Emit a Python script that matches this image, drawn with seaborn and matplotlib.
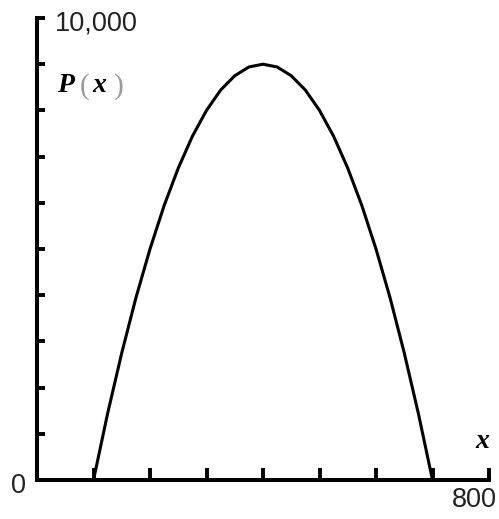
import matplotlib
matplotlib.use("Agg")
import matplotlib.pyplot as plt
import seaborn as sns

# profit curve (x in units, P in dollars)
x_vals = [100, 125, 150, 175, 200, 225, 250, 275, 300, 325, 350, 375, 400,
          425, 450, 475, 500, 525, 550, 575, 600, 625, 650, 675, 700]
p_vals = [0, 1440, 2750, 3940, 5000, 5940, 6750, 7440, 8000, 8440, 8750, 8940, 9000,
          8940, 8750, 8440, 8000, 7440, 6750, 5940, 5000, 3940, 2750, 1440, 0]
x_ticks = [100, 200, 300, 400, 500, 600, 700, 800]
y_ticks = [1000, 2000, 3000, 4000, 5000, 6000, 7000, 8000, 9000, 10000]

sns.set_style("ticks")

W, H = 499, 519
fig = plt.figure(figsize=(W / 100, H / 100), dpi=100)
ax = fig.add_axes([37 / W, 1 - 480 / H, (489 - 37) / W, (480 - 18) / H])

sns.lineplot(x=x_vals, y=p_vals, ax=ax, color="black", linewidth=2.2)

ax.set_xlim(0, 800)
ax.set_ylim(0, 10000)
ax.set_xticks(x_ticks)
ax.set_yticks(y_ticks)
ax.set_xticklabels([])
ax.set_yticklabels([])
ax.set_xlabel("")
ax.set_ylabel("")
sns.despine(ax=ax)
for s in ["left", "bottom"]:
    ax.spines[s].set_linewidth(2.9)
    ax.spines[s].set_color("black")
    ax.spines[s].set_capstyle("projecting")
ax.tick_params(axis="x", direction="in", length=8.5, width=2.8, color="black")
ax.tick_params(axis="y", direction="in", length=5.8, width=2.8, color="black")


def px(x, y):
    return x / W, 1 - y / H


sans = dict(family="Liberation Sans", fontsize=19.5, color="#222222")
serif_b = dict(family="Liberation Serif", fontsize=20, fontweight="bold", fontstyle="italic", color="black")
paren = dict(family="Liberation Serif", fontsize=21, color="#9a9a9a")

fig.text(*px(19, 486), "0", ha="center", va="center", **sans)
fig.text(*px(55, 23), "10,000", ha="left", va="center", **sans)
fig.text(*px(474, 500), "800", ha="center", va="center", **sans)

# P(x) label
fig.text(*px(57, 92), "P", ha="left", va="baseline", **serif_b)
fig.text(*px(80, 94), "(", ha="left", va="baseline", **paren)
fig.text(*px(92, 92), "x", ha="left", va="baseline", **serif_b)
fig.text(*px(114, 94), ")", ha="left", va="baseline", **paren)

# axis variable label
fig.text(*px(475, 448), "x", ha="left", va="baseline", **serif_b)

fig.savefig("out.png", dpi=100)
